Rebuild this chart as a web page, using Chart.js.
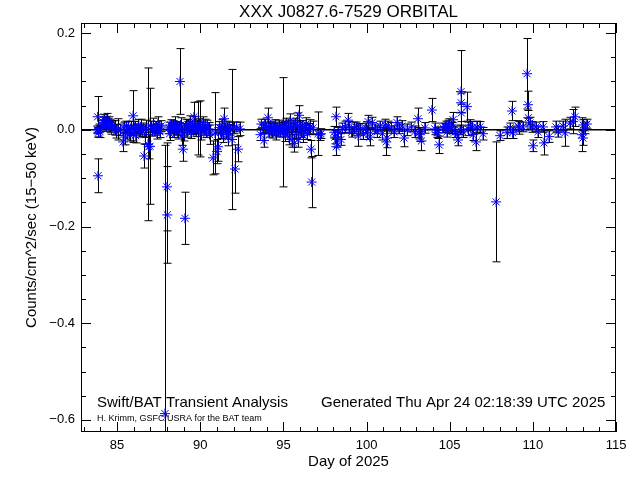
<!DOCTYPE html>
<html>
<head>
<meta charset="utf-8">
<script src="https://cdn.jsdelivr.net/npm/chart.js@4/dist/chart.umd.min.js"></script>
<style>
  html, body { margin: 0; padding: 0; background: #fff; }
  canvas { display: block; }
</style>
</head>
<body>
<canvas id="grafico" width="640" height="480"></canvas>
<script>
// Dados (dia do ano, taxa, erro 1-sigma)
const days = [
  83.80, 83.83, 83.85, 83.88, 83.92, 83.97,
  84.12, 84.18, 84.22, 84.26, 84.30, 84.34, 84.38, 84.42, 84.46, 84.50, 84.55, 84.60, 84.66, 84.72,
  84.85, 84.95, 85.05, 85.20,
  85.36, 85.42, 85.50, 85.55, 85.62, 85.68, 85.75, 85.82, 85.96, 85.98, 86.05, 86.12, 86.20, 86.28, 86.35, 86.42, 86.50, 86.58,
  86.62, 86.70, 86.75, 86.86, 86.90, 86.98,
  87.05, 87.12, 87.18, 87.25, 87.32, 87.40, 87.46, 87.52, 87.58, 87.65,
  87.88, 88.00, 88.02,
  88.10, 88.16, 88.22, 88.28, 88.34, 88.40, 88.46, 88.52, 88.58, 88.64, 88.70, 88.78, 88.82, 88.88,
  88.96, 89.02, 89.08, 89.12,
  89.20, 89.26, 89.32, 89.38, 89.44, 89.50, 89.56, 89.62, 89.68, 89.74, 89.80, 89.88, 89.93, 90.00,
  90.05, 90.12, 90.18, 90.24, 90.30, 90.36, 90.42, 90.50, 90.56,
  90.77, 90.89, 91.01, 91.07,
  91.15, 91.22, 91.30, 91.36, 91.43, 91.50, 91.56, 91.62, 91.68, 91.74, 91.80, 91.91, 92.00, 92.09, 92.18, 92.27, 92.38,
  93.62, 93.68, 93.78, 93.83, 93.88, 93.94, 94.07, 94.12, 94.18, 94.25, 94.32, 94.38, 94.44, 94.50, 94.56, 94.62,
  94.68, 94.74, 94.80, 94.92, 94.98, 95.04, 95.10, 95.16, 95.22, 95.28, 95.34, 95.40, 95.46, 95.52, 95.58, 95.64,
  95.70, 95.76, 95.82, 95.88, 95.94, 96.00,
  96.06, 96.12, 96.20, 96.28, 96.36, 96.44, 96.52, 96.60, 96.66, 96.70, 96.78, 97.08, 97.20, 97.26,
  98.05, 98.10, 98.16, 98.18, 98.22, 98.30, 98.46, 98.55, 98.70, 98.89, 98.95, 99.10, 99.25, 99.37, 99.49, 99.60,
  99.80, 99.95, 100.03, 100.09, 100.20, 100.33, 100.50, 100.65, 100.81, 100.95, 101.11, 101.18, 101.23, 101.29,
  101.50, 101.65, 101.83, 101.95, 102.13, 102.25, 102.45, 102.70, 102.90, 103.09, 103.15, 103.21, 103.30, 103.50,
  103.93, 104.10, 104.24, 104.30, 104.36, 104.60, 104.72, 104.78, 104.84, 104.90, 104.95,
  105.08, 105.14, 105.20, 105.32, 105.44, 105.50, 105.62, 105.68, 105.69, 105.70, 105.80, 106.04, 106.10, 106.22,
  106.34, 106.40, 106.58, 106.64, 106.82, 107.00,
  107.79, 108.03, 108.45, 108.63, 108.75, 108.78, 109.11, 109.17, 109.40,
  109.65, 109.71, 109.73, 109.83, 109.95, 110.01, 110.19, 110.31, 110.61, 110.67, 110.97,
  111.39, 111.51, 111.81, 111.93, 112.23, 112.41, 112.53, 112.95, 113.01, 113.03, 113.13, 113.25
];
const rates = [
  0.000, 0.027, -0.095, -0.005, 0.003, -0.004,
  0.010, 0.015, 0.020, 0.012, 0.018, 0.008, 0.022, 0.014, 0.010, 0.017, 0.006, 0.012, 0.003, 0.009,
  0.004, -0.003, 0.001, 0.000,
  -0.025, 0.004, -0.015, 0.008, -0.005, 0.006, -0.010, 0.003, 0.029, -0.008, 0.005, -0.012, 0.002, 0.008, -0.004, 0.006, -0.002, 0.004,
  -0.054, -0.010, 0.002, -0.030, -0.035, -0.034,
  0.006, -0.003, 0.010, 0.000, 0.005, -0.006, 0.012, 0.002, -0.004, 0.008,
  -0.587, -0.118, -0.176,
  0.004, -0.008, 0.010, 0.002, 0.006, -0.004, 0.012, 0.000, 0.007, -0.006, 0.003, 0.100, 0.010, -0.012,
  -0.040, -0.005, -0.183, 0.008,
  -0.003, 0.010, 0.004, 0.014, -0.006, 0.008, 0.002, 0.027, 0.010, -0.002, 0.006, 0.003, 0.012, 0.002,
  -0.008, 0.006, 0.015, 0.000, 0.008, -0.004, 0.010, 0.002, -0.010,
  -0.058, -0.007, -0.045, -0.035,
  0.005, -0.004, 0.010, -0.010, 0.023, 0.002, -0.006, 0.008, -0.015, 0.004, 0.000, -0.020, 0.004, -0.081, 0.006, -0.040, 0.002,
  -0.010, 0.012, 0.005, -0.022, 0.010, 0.004, 0.025, -0.004, 0.008, 0.002, -0.006, 0.006, 0.000, 0.010, -0.008, 0.004,
  -0.002, 0.008, -0.005, 0.003, -0.005, 0.006, -0.010, 0.012, -0.003, 0.007, -0.015, 0.018, 0.002, -0.020, 0.008, -0.028,
  0.010, -0.006, 0.015, -0.020, 0.030, 0.005,
  -0.004, 0.008, -0.012, 0.004, 0.012, -0.008, 0.002, 0.006, -0.040, -0.108, 0.004, -0.008, -0.010, -0.008,
  -0.005, -0.015, 0.027, -0.035, -0.020, -0.005, -0.020, 0.004, 0.006, 0.020, 0.005, -0.005, 0.004, 0.006, -0.012, 0.002,
  -0.008, 0.004, -0.006, 0.017, -0.015, 0.015, 0.002, -0.004, 0.008, -0.008, 0.010, -0.025, -0.017, 0.008,
  0.004, -0.004, 0.015, 0.002, 0.008, -0.017, 0.000, 0.006, -0.004, 0.023, -0.007, -0.010, -0.023, 0.004,
  0.041, 0.002, -0.006, -0.006, -0.031, 0.004, 0.006, 0.006, -0.004, 0.010, 0.010,
  0.004, 0.004, 0.021, -0.004, -0.010, -0.021, 0.000, 0.079, 0.056, 0.035, -0.004, 0.048, 0.002, 0.010,
  0.004, -0.010, -0.025, 0.006, 0.006, -0.008,
  -0.149, -0.012, -0.006, 0.004, 0.039, -0.006, 0.008, 0.004, 0.006,
  0.116, 0.052, 0.025, 0.014, 0.006, -0.033, 0.006, -0.004, 0.006, -0.027, -0.014,
  0.006, -0.004, 0.008, -0.006, 0.014, 0.017, 0.027, -0.010, -0.017, 0.010, 0.004, 0.012
];
const errors = [
  0.008, 0.042, 0.035, 0.010, 0.009, 0.012,
  0.010, 0.011, 0.012, 0.009, 0.010, 0.011, 0.012, 0.010, 0.009, 0.010, 0.011, 0.010, 0.012, 0.010,
  0.015, 0.014, 0.022, 0.012,
  0.020, 0.012, 0.016, 0.010, 0.014, 0.011, 0.013, 0.015, 0.052, 0.018, 0.012, 0.015, 0.010, 0.013, 0.011, 0.016, 0.012, 0.010,
  0.025, 0.020, 0.018, 0.158, 0.025, 0.120,
  0.012, 0.010, 0.014, 0.011, 0.012, 0.013, 0.015, 0.010, 0.012, 0.011,
  0.555, 0.091, 0.100,
  0.012, 0.014, 0.011, 0.010, 0.013, 0.012, 0.015, 0.011, 0.010, 0.013, 0.012, 0.068, 0.015, 0.020,
  0.025, 0.018, 0.054, 0.014,
  0.012, 0.011, 0.013, 0.015, 0.012, 0.010, 0.012, 0.030, 0.018, 0.012, 0.014, 0.055, 0.011, 0.058,
  0.013, 0.010, 0.012, 0.011, 0.014, 0.012, 0.010, 0.013, 0.020,
  0.035, 0.084, 0.025, 0.030,
  0.012, 0.014, 0.011, 0.016, 0.022, 0.012, 0.013, 0.010, 0.018, 0.012, 0.011, 0.145, 0.012, 0.050, 0.010, 0.026, 0.014,
  0.012, 0.010, 0.011, 0.014, 0.012, 0.010, 0.020, 0.011, 0.010, 0.012, 0.011, 0.010, 0.012, 0.011, 0.013, 0.010,
  0.011, 0.012, 0.010, 0.012, 0.113, 0.011, 0.014, 0.012, 0.010, 0.013, 0.016, 0.015, 0.011, 0.016, 0.012, 0.018,
  0.014, 0.012, 0.020, 0.016, 0.020, 0.014,
  0.012, 0.011, 0.014, 0.010, 0.013, 0.012, 0.011, 0.015, 0.018, 0.053, 0.014, 0.045, 0.012, 0.010,
  0.012, 0.014, 0.020, 0.018, 0.016, 0.010, 0.012, 0.010, 0.012, 0.014, 0.012, 0.010, 0.012, 0.010, 0.022, 0.011,
  0.012, 0.010, 0.014, 0.013, 0.018, 0.011, 0.010, 0.012, 0.010, 0.013, 0.012, 0.028, 0.020, 0.010,
  0.011, 0.012, 0.012, 0.010, 0.011, 0.018, 0.012, 0.010, 0.012, 0.022, 0.012, 0.014, 0.020, 0.011,
  0.024, 0.012, 0.010, 0.012, 0.018, 0.010, 0.007, 0.012, 0.011, 0.010, 0.013,
  0.012, 0.011, 0.015, 0.012, 0.006, 0.012, 0.010, 0.085, 0.020, 0.018, 0.012, 0.030, 0.014, 0.011,
  0.013, 0.012, 0.018, 0.012, 0.011, 0.013,
  0.124, 0.010, 0.012, 0.010, 0.020, 0.012, 0.011, 0.013, 0.010,
  0.073, 0.028, 0.015, 0.012, 0.011, 0.012, 0.010, 0.012, 0.011, 0.025, 0.012,
  0.012, 0.011, 0.010, 0.028, 0.012, 0.025, 0.020, 0.035, 0.015, 0.011, 0.012, 0.010
];

const xTickLabels = [85, 90, 95, 100, 105, 110, 115];
const yTickLabels = [-0.6, -0.4, -0.2, 0.0, 0.2];
const xRange = [82.83, 115];
const yRange = [-0.625, 0.221];

const FONTE = "'Liberation Sans', Arial, sans-serif";

function formatarTick(v) {
    return v.toFixed(1).replace('-', '\u2212');
}

// Barras de erro, linha zero, moldura e textos
const barrasErro = {
    id: 'barrasErro',
    beforeDatasetsDraw(chart) {
        const { ctx, chartArea: a, scales: { x, y } } = chart;
        ctx.save();
        ctx.beginPath();
        ctx.rect(a.left, a.top, a.right - a.left, a.bottom - a.top);
        ctx.clip();
        ctx.strokeStyle = '#000';
        ctx.lineWidth = 1;
        const cap = 4;
        days.forEach((d, i) => {
            const px = Math.round(x.getPixelForValue(d)) + 0.5;
            const yt = y.getPixelForValue(rates[i] + errors[i]);
            const yb = y.getPixelForValue(rates[i] - errors[i]);
            ctx.beginPath();
            ctx.moveTo(px, yt); ctx.lineTo(px, yb);
            ctx.moveTo(px - cap, yt); ctx.lineTo(px + cap, yt);
            ctx.moveTo(px - cap, yb); ctx.lineTo(px + cap, yb);
            ctx.stroke();
        });
        // linha zero
        const y0 = y.getPixelForValue(0);
        ctx.lineWidth = 1.5;
        ctx.beginPath();
        ctx.moveTo(a.left, y0); ctx.lineTo(a.right, y0);
        ctx.stroke();
        ctx.restore();
    },
    afterDraw(chart) {
        const { ctx, chartArea: a, scales: { x, y } } = chart;
        ctx.save();
        ctx.strokeStyle = '#000';
        ctx.lineWidth = 1;
        ctx.strokeRect(a.left + 0.5, a.top + 0.5, a.right - a.left - 1, a.bottom - a.top - 1);

        ctx.beginPath();
        // ticks do eixo x (maiores a cada 5 dias, menores a cada dia)
        for (let d = Math.ceil(xRange[0]); d <= xRange[1]; d++) {
            const px = Math.round(x.getPixelForValue(d)) + 0.5;
            const len = (d % 5 === 0) ? 10 : 5;
            ctx.moveTo(px, a.bottom); ctx.lineTo(px, a.bottom - len);
            ctx.moveTo(px, a.top); ctx.lineTo(px, a.top + len);
        }
        // ticks do eixo y (maiores a cada 0.2, menores a cada 0.05)
        for (let k = -12; k <= 4; k++) {
            const v = k * 0.05;
            const py = Math.round(y.getPixelForValue(v)) + 0.5;
            const len = (k % 4 === 0) ? 10 : 5;
            ctx.moveTo(a.left, py); ctx.lineTo(a.left + len, py);
            ctx.moveTo(a.right, py); ctx.lineTo(a.right - len, py);
        }
        ctx.stroke();

        ctx.fillStyle = '#000';
        ctx.textBaseline = 'middle';

        // titulo centrado sobre a area do grafico
        ctx.textAlign = 'center';
        ctx.font = '17px ' + FONTE;
        ctx.fillText('XXX J0827.6-7529 ORBITAL', (a.left + a.right) / 2, 12);

        // textos dentro do grafico
        ctx.textAlign = 'left';
        ctx.font = '15px ' + FONTE;
        ctx.fillText('Swift/BAT Transient Analysis', 97, 403);
        ctx.fillText('Generated Thu Apr 24 02:18:39 UTC 2025', 321, 403);
        ctx.font = '9px ' + FONTE;
        ctx.fillText('H. Krimm, GSFC/USRA for the BAT team', 97, 419);
        ctx.restore();
    }
};

new Chart(document.getElementById('grafico'), {
    type: 'scatter',
    data: {
        datasets: [{
            data: days.map((d, i) => ({ x: d, y: rates[i] })),
            pointStyle: 'star',
            radius: 5,
            borderColor: '#0000ff',
            backgroundColor: '#0000ff',
            borderWidth: 1
        }]
    },
    options: {
        responsive: false,
        animation: false,
        layout: { padding: { left: 0, right: 24, top: 23, bottom: 0 } },
        plugins: {
            legend: { display: false },
            tooltip: { enabled: false },
            title: { display: false }
        },
        scales: {
            x: {
                type: 'linear',
                min: xRange[0],
                max: xRange[1],
                grid: { display: false, drawTicks: false },
                border: { display: false },
                afterBuildTicks: s => { s.ticks = xTickLabels.map(v => ({ value: v })); },
                afterFit: s => { s.height = 48; },
                ticks: {
                    color: '#000',
                    padding: 6,
                    maxRotation: 0,
                    font: { family: FONTE, size: 13 },
                    callback: v => String(v)
                },
                title: {
                    display: true,
                    text: 'Day of 2025',
                    color: '#000',
                    font: { family: FONTE, size: 15 },
                    padding: { top: 0, bottom: 9 }
                }
            },
            y: {
                type: 'linear',
                min: yRange[0],
                max: yRange[1],
                grid: { display: false, drawTicks: false },
                border: { display: false },
                afterBuildTicks: s => { s.ticks = yTickLabels.map(v => ({ value: v })); },
                afterFit: s => { s.width = 81; },
                ticks: {
                    color: '#000',
                    padding: 6,
                    font: { family: FONTE, size: 13 },
                    callback: v => formatarTick(v)
                },
                title: {
                    display: true,
                    text: 'Counts/cm^2/sec (15\u221250 keV)',
                    color: '#000',
                    font: { family: FONTE, size: 15 },
                    padding: { top: 23, bottom: 0 }
                }
            }
        }
    },
    plugins: [barrasErro]
});
</script>
</body>
</html>
